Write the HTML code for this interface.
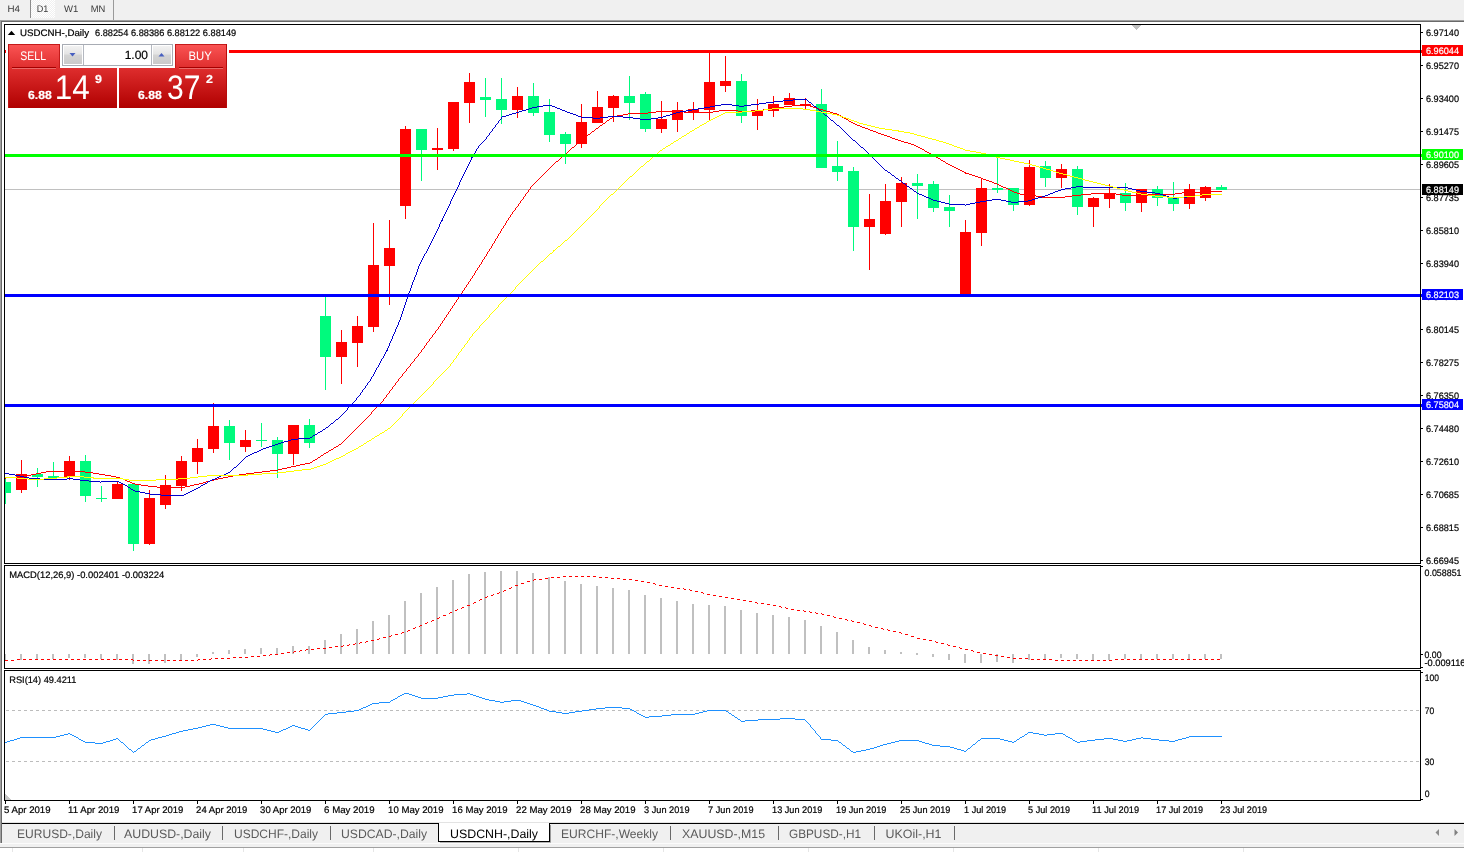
<!DOCTYPE html>
<html lang="en"><head><meta charset="utf-8"><title>USDCNH-,Daily</title>
<style>
html,body{margin:0;padding:0;background:#fff;overflow:hidden}
body{width:1464px;height:852px;font-family:"Liberation Sans",sans-serif}
svg{display:block;position:absolute;left:0;top:0}
svg text{font-family:"Liberation Sans",sans-serif;white-space:pre}
</style></head><body>
<svg width="1464" height="852" viewBox="0 0 1464 852" shape-rendering="crispEdges" text-rendering="geometricPrecision">
<rect x="0" y="0" width="1464" height="852" fill="#ffffff"/>
<rect x="0" y="0" width="1464" height="20" fill="#f0f0f0"/>
<defs><pattern id="ck" width="2" height="2" patternUnits="userSpaceOnUse"><rect width="2" height="2" fill="#f0f0f0"/><rect width="1" height="1" fill="#fff"/><rect x="1" y="1" width="1" height="1" fill="#fff"/></pattern></defs>
<rect x="31" y="0" width="24" height="18" fill="url(#ck)"/>
<rect x="30" y="0" width="1" height="18" fill="#8c8c8c"/>
<rect x="113" y="0" width="1" height="20" fill="#9a9a9a"/>
<rect x="0" y="20" width="1464" height="1" fill="#a0a0a0"/>
<rect x="1" y="21" width="1463" height="1" fill="#696969"/>
<rect x="0" y="20" width="1" height="823" fill="#a0a0a0"/>
<rect x="1" y="21" width="1" height="822" fill="#696969"/>
<text x="7.5" y="12" font-size="9.6" fill="#3a3a3a" stroke="#3a3a3a" stroke-width="0" textLength="12.5" lengthAdjust="spacingAndGlyphs">H4</text>
<text x="36.7" y="12" font-size="9.6" fill="#3a3a3a" stroke="#3a3a3a" stroke-width="0" textLength="11.6" lengthAdjust="spacingAndGlyphs">D1</text>
<text x="64" y="12" font-size="9.6" fill="#3a3a3a" stroke="#3a3a3a" stroke-width="0" textLength="14.3" lengthAdjust="spacingAndGlyphs">W1</text>
<text x="90.8" y="12" font-size="9.6" fill="#3a3a3a" stroke="#3a3a3a" stroke-width="0" textLength="14.6" lengthAdjust="spacingAndGlyphs">MN</text>
<rect x="4" y="24" width="1417" height="1" fill="#000000"/>
<rect x="4" y="563" width="1417" height="1" fill="#000000"/>
<rect x="4" y="24" width="1" height="540" fill="#000000"/>
<rect x="1420" y="24" width="1" height="540" fill="#000000"/>
<rect x="4" y="565" width="1417" height="1" fill="#000000"/>
<rect x="4" y="668" width="1417" height="1" fill="#000000"/>
<rect x="4" y="565" width="1" height="104" fill="#000000"/>
<rect x="1420" y="565" width="1" height="104" fill="#000000"/>
<rect x="4" y="670" width="1417" height="1" fill="#000000"/>
<rect x="4" y="800" width="1417" height="1" fill="#000000"/>
<rect x="4" y="670" width="1" height="131" fill="#000000"/>
<rect x="1420" y="670" width="1" height="131" fill="#000000"/>
<rect x="5" y="189" width="1415" height="1" fill="#c0c0c0"/>
<g id="candles">
<rect x="5" y="478" width="1" height="26" fill="#00fa7d"/>
<rect x="5" y="482" width="6" height="11" fill="#00fa7d"/>
<rect x="21" y="460" width="1" height="33" fill="#ff0000"/>
<rect x="16" y="474" width="11" height="16" fill="#ff0000"/>
<rect x="37" y="468" width="1" height="19" fill="#00fa7d"/>
<rect x="32" y="474" width="11" height="3" fill="#00fa7d"/>
<rect x="53" y="462" width="1" height="17" fill="#00fa7d"/>
<rect x="48" y="476" width="11" height="2" fill="#00fa7d"/>
<rect x="69" y="456" width="1" height="24" fill="#ff0000"/>
<rect x="64" y="461" width="11" height="16" fill="#ff0000"/>
<rect x="85" y="455" width="1" height="47" fill="#00fa7d"/>
<rect x="80" y="461" width="11" height="35" fill="#00fa7d"/>
<rect x="101" y="486" width="1" height="16" fill="#00fa7d"/>
<rect x="96" y="498" width="11" height="1" fill="#00fa7d"/>
<rect x="117" y="482" width="1" height="17" fill="#ff0000"/>
<rect x="112" y="484" width="11" height="15" fill="#ff0000"/>
<rect x="133" y="484" width="1" height="67" fill="#00fa7d"/>
<rect x="128" y="484" width="11" height="60" fill="#00fa7d"/>
<rect x="149" y="490" width="1" height="55" fill="#ff0000"/>
<rect x="144" y="498" width="11" height="46" fill="#ff0000"/>
<rect x="165" y="475" width="1" height="34" fill="#ff0000"/>
<rect x="160" y="485" width="11" height="20" fill="#ff0000"/>
<rect x="181" y="456" width="1" height="35" fill="#ff0000"/>
<rect x="176" y="461" width="11" height="25" fill="#ff0000"/>
<rect x="197" y="439" width="1" height="35" fill="#ff0000"/>
<rect x="192" y="448" width="11" height="14" fill="#ff0000"/>
<rect x="213" y="403" width="1" height="50" fill="#ff0000"/>
<rect x="208" y="426" width="11" height="23" fill="#ff0000"/>
<rect x="229" y="420" width="1" height="40" fill="#00fa7d"/>
<rect x="224" y="426" width="11" height="17" fill="#00fa7d"/>
<rect x="245" y="430" width="1" height="22" fill="#ff0000"/>
<rect x="240" y="440" width="11" height="7" fill="#ff0000"/>
<rect x="261" y="423" width="1" height="24" fill="#00fa7d"/>
<rect x="256" y="440" width="11" height="1" fill="#00fa7d"/>
<rect x="277" y="437" width="1" height="41" fill="#00fa7d"/>
<rect x="272" y="440" width="11" height="14" fill="#00fa7d"/>
<rect x="293" y="425" width="1" height="40" fill="#ff0000"/>
<rect x="288" y="425" width="11" height="29" fill="#ff0000"/>
<rect x="309" y="419" width="1" height="29" fill="#00fa7d"/>
<rect x="304" y="425" width="11" height="18" fill="#00fa7d"/>
<rect x="325" y="297" width="1" height="93" fill="#00fa7d"/>
<rect x="320" y="316" width="11" height="41" fill="#00fa7d"/>
<rect x="341" y="330" width="1" height="54" fill="#ff0000"/>
<rect x="336" y="342" width="11" height="15" fill="#ff0000"/>
<rect x="357" y="316" width="1" height="51" fill="#ff0000"/>
<rect x="352" y="326" width="11" height="17" fill="#ff0000"/>
<rect x="373" y="223" width="1" height="109" fill="#ff0000"/>
<rect x="368" y="265" width="11" height="62" fill="#ff0000"/>
<rect x="389" y="220" width="1" height="85" fill="#ff0000"/>
<rect x="384" y="248" width="11" height="18" fill="#ff0000"/>
<rect x="405" y="126" width="1" height="93" fill="#ff0000"/>
<rect x="400" y="129" width="11" height="77" fill="#ff0000"/>
<rect x="421" y="129" width="1" height="52" fill="#00fa7d"/>
<rect x="416" y="129" width="11" height="21" fill="#00fa7d"/>
<rect x="437" y="128" width="1" height="42" fill="#ff0000"/>
<rect x="432" y="148" width="11" height="2" fill="#ff0000"/>
<rect x="453" y="102" width="1" height="49" fill="#ff0000"/>
<rect x="448" y="102" width="11" height="47" fill="#ff0000"/>
<rect x="469" y="73" width="1" height="50" fill="#ff0000"/>
<rect x="464" y="82" width="11" height="21" fill="#ff0000"/>
<rect x="485" y="78" width="1" height="39" fill="#00fa7d"/>
<rect x="480" y="97" width="11" height="3" fill="#00fa7d"/>
<rect x="501" y="78" width="1" height="46" fill="#00fa7d"/>
<rect x="496" y="99" width="11" height="11" fill="#00fa7d"/>
<rect x="517" y="87" width="1" height="31" fill="#ff0000"/>
<rect x="512" y="96" width="11" height="14" fill="#ff0000"/>
<rect x="533" y="83" width="1" height="33" fill="#00fa7d"/>
<rect x="528" y="96" width="11" height="17" fill="#00fa7d"/>
<rect x="549" y="99" width="1" height="43" fill="#00fa7d"/>
<rect x="544" y="112" width="11" height="23" fill="#00fa7d"/>
<rect x="565" y="132" width="1" height="32" fill="#00fa7d"/>
<rect x="560" y="134" width="11" height="10" fill="#00fa7d"/>
<rect x="581" y="104" width="1" height="44" fill="#ff0000"/>
<rect x="576" y="122" width="11" height="22" fill="#ff0000"/>
<rect x="597" y="91" width="1" height="32" fill="#ff0000"/>
<rect x="592" y="107" width="11" height="16" fill="#ff0000"/>
<rect x="613" y="95" width="1" height="27" fill="#ff0000"/>
<rect x="608" y="96" width="11" height="12" fill="#ff0000"/>
<rect x="629" y="76" width="1" height="44" fill="#00fa7d"/>
<rect x="624" y="96" width="11" height="7" fill="#00fa7d"/>
<rect x="645" y="92" width="1" height="40" fill="#00fa7d"/>
<rect x="640" y="94" width="11" height="35" fill="#00fa7d"/>
<rect x="661" y="101" width="1" height="32" fill="#ff0000"/>
<rect x="656" y="119" width="11" height="10" fill="#ff0000"/>
<rect x="677" y="102" width="1" height="30" fill="#ff0000"/>
<rect x="672" y="110" width="11" height="10" fill="#ff0000"/>
<rect x="693" y="102" width="1" height="18" fill="#ff0000"/>
<rect x="688" y="109" width="11" height="3" fill="#ff0000"/>
<rect x="709" y="53" width="1" height="67" fill="#ff0000"/>
<rect x="704" y="82" width="11" height="28" fill="#ff0000"/>
<rect x="725" y="56" width="1" height="36" fill="#ff0000"/>
<rect x="720" y="81" width="11" height="5" fill="#ff0000"/>
<rect x="741" y="74" width="1" height="49" fill="#00fa7d"/>
<rect x="736" y="81" width="11" height="35" fill="#00fa7d"/>
<rect x="757" y="99" width="1" height="31" fill="#ff0000"/>
<rect x="752" y="110" width="11" height="6" fill="#ff0000"/>
<rect x="773" y="96" width="1" height="21" fill="#ff0000"/>
<rect x="768" y="104" width="11" height="7" fill="#ff0000"/>
<rect x="789" y="93" width="1" height="12" fill="#ff0000"/>
<rect x="784" y="98" width="11" height="7" fill="#ff0000"/>
<rect x="805" y="98" width="1" height="11" fill="#ff0000"/>
<rect x="800" y="104" width="11" height="2" fill="#ff0000"/>
<rect x="821" y="89" width="1" height="79" fill="#00fa7d"/>
<rect x="816" y="104" width="11" height="64" fill="#00fa7d"/>
<rect x="837" y="141" width="1" height="40" fill="#00fa7d"/>
<rect x="832" y="166" width="11" height="6" fill="#00fa7d"/>
<rect x="853" y="167" width="1" height="84" fill="#00fa7d"/>
<rect x="848" y="171" width="11" height="56" fill="#00fa7d"/>
<rect x="869" y="194" width="1" height="76" fill="#ff0000"/>
<rect x="864" y="219" width="11" height="8" fill="#ff0000"/>
<rect x="885" y="184" width="1" height="51" fill="#ff0000"/>
<rect x="880" y="201" width="11" height="33" fill="#ff0000"/>
<rect x="901" y="177" width="1" height="50" fill="#ff0000"/>
<rect x="896" y="183" width="11" height="19" fill="#ff0000"/>
<rect x="917" y="174" width="1" height="45" fill="#00fa7d"/>
<rect x="912" y="183" width="11" height="3" fill="#00fa7d"/>
<rect x="933" y="181" width="1" height="31" fill="#00fa7d"/>
<rect x="928" y="184" width="11" height="24" fill="#00fa7d"/>
<rect x="949" y="195" width="1" height="32" fill="#00fa7d"/>
<rect x="944" y="207" width="11" height="4" fill="#00fa7d"/>
<rect x="965" y="220" width="1" height="74" fill="#ff0000"/>
<rect x="960" y="232" width="11" height="62" fill="#ff0000"/>
<rect x="981" y="178" width="1" height="68" fill="#ff0000"/>
<rect x="976" y="188" width="11" height="45" fill="#ff0000"/>
<rect x="997" y="157" width="1" height="36" fill="#00fa7d"/>
<rect x="992" y="188" width="11" height="2" fill="#00fa7d"/>
<rect x="1013" y="188" width="1" height="23" fill="#00fa7d"/>
<rect x="1008" y="188" width="11" height="17" fill="#00fa7d"/>
<rect x="1029" y="160" width="1" height="46" fill="#ff0000"/>
<rect x="1024" y="167" width="11" height="38" fill="#ff0000"/>
<rect x="1045" y="161" width="1" height="26" fill="#00fa7d"/>
<rect x="1040" y="166" width="11" height="12" fill="#00fa7d"/>
<rect x="1061" y="164" width="1" height="24" fill="#ff0000"/>
<rect x="1056" y="169" width="11" height="9" fill="#ff0000"/>
<rect x="1077" y="166" width="1" height="49" fill="#00fa7d"/>
<rect x="1072" y="169" width="11" height="38" fill="#00fa7d"/>
<rect x="1093" y="197" width="1" height="30" fill="#ff0000"/>
<rect x="1088" y="198" width="11" height="9" fill="#ff0000"/>
<rect x="1109" y="184" width="1" height="24" fill="#ff0000"/>
<rect x="1104" y="193" width="11" height="6" fill="#ff0000"/>
<rect x="1125" y="183" width="1" height="28" fill="#00fa7d"/>
<rect x="1120" y="193" width="11" height="10" fill="#00fa7d"/>
<rect x="1141" y="189" width="1" height="23" fill="#ff0000"/>
<rect x="1136" y="189" width="11" height="14" fill="#ff0000"/>
<rect x="1157" y="186" width="1" height="20" fill="#00fa7d"/>
<rect x="1152" y="189" width="11" height="9" fill="#00fa7d"/>
<rect x="1173" y="182" width="1" height="29" fill="#00fa7d"/>
<rect x="1168" y="197" width="11" height="7" fill="#00fa7d"/>
<rect x="1189" y="184" width="1" height="25" fill="#ff0000"/>
<rect x="1184" y="189" width="11" height="15" fill="#ff0000"/>
<rect x="1205" y="186" width="1" height="15" fill="#ff0000"/>
<rect x="1200" y="187" width="11" height="11" fill="#ff0000"/>
<rect x="1221" y="185" width="1" height="5" fill="#00fa7d"/>
<rect x="1216" y="187" width="11" height="3" fill="#00fa7d"/>
</g>
<path d="M16.5 476v2M371.5 412v2M383.5 399v2M386.5 395v2M389.5 391v2M392.5 387v2M395.5 383v2M398.5 379v2M402.5 374v2M406.5 369v2M410.5 364v2M414.5 359v2M418.5 354v2M421.5 350v2M424.5 346v2M426.5 343v2M429.5 339v2M432.5 335v2M435.5 331v2M438.5 327v2M440.5 324v2M442.5 321v2M444.5 318v2M446.5 315v2M448.5 312v2M450.5 309v2M452.5 306v2M454.5 303v2M456.5 300v2M458.5 297v2M460.5 294v2M462.5 291v2M464.5 288v2M466.5 285v2M468.5 282v2M470.5 279v2M472.5 276v2M474.5 273v2M475.5 271v2M477.5 268v2M479.5 265v2M481.5 262v2M482.5 260v2M484.5 257v2M486.5 254v2M487.5 252v2M489.5 249v2M491.5 246v2M492.5 244v2M494.5 241v2M495.5 239v2M497.5 236v2M498.5 234v2M500.5 231v2M501.5 229v2M503.5 226v2M505.5 223v2M506.5 221v2M508.5 218v2M510.5 215v2M512.5 212v2M515.5 208v2M518.5 204v2M520.5 201v2M523.5 197v2M525.5 194v2M528.5 190v2M530.5 187v2M965.5 172v2M801 104.5h6M792 105.5h9M807 105.5h3M784 106.5h8M810 106.5h3M776 107.5h8M813 107.5h3M769 108.5h7M816 108.5h3M763 109.5h6M819 109.5h4M719 110.5h19M751 110.5h12M823 110.5h3M656 111.5h28M713 111.5h6M738 111.5h13M826 111.5h4M648 112.5h8M684 112.5h9M694 112.5h19M830 112.5h3M628 113.5h20M693 113.5h1M833 113.5h4M623 114.5h5M837 114.5h2M617 115.5h6M839 115.5h2M613 116.5h4M841 116.5h1M612 117.5h1M842 117.5h2M610 118.5h2M844 118.5h2M609 119.5h1M846 119.5h2M607 120.5h2M848 120.5h1M606 121.5h1M849 121.5h2M605 122.5h1M851 122.5h2M603 123.5h2M853 123.5h2M602 124.5h1M855 124.5h2M600 125.5h2M857 125.5h3M599 126.5h1M860 126.5h2M598 127.5h1M862 127.5h3M596 128.5h2M865 128.5h3M595 129.5h1M868 129.5h2M594 130.5h1M870 130.5h3M592 131.5h2M873 131.5h3M591 132.5h1M876 132.5h2M590 133.5h1M878 133.5h3M588 134.5h2M881 134.5h3M587 135.5h1M884 135.5h3M586 136.5h1M887 136.5h3M584 137.5h2M890 137.5h2M583 138.5h1M892 138.5h3M582 139.5h1M895 139.5h3M580 140.5h2M898 140.5h3M579 141.5h1M901 141.5h3M578 142.5h1M904 142.5h4M577 143.5h1M908 143.5h3M576 144.5h1M911 144.5h3M575 145.5h1M914 145.5h2M574 146.5h1M916 146.5h2M572 147.5h2M918 147.5h2M571 148.5h1M920 148.5h2M570 149.5h1M922 149.5h2M569 150.5h1M924 150.5h1M568 151.5h1M925 151.5h2M567 152.5h1M927 152.5h2M566 153.5h1M929 153.5h2M565 154.5h1M931 154.5h2M563 155.5h2M933 155.5h2M562 156.5h1M935 156.5h1M561 157.5h1M936 157.5h2M560 158.5h1M938 158.5h2M559 159.5h1M940 159.5h1M558 160.5h1M941 160.5h2M556 161.5h2M943 161.5h2M555 162.5h1M945 162.5h1M554 163.5h1M946 163.5h2M553 164.5h1M948 164.5h2M552 165.5h1M950 165.5h2M551 166.5h1M952 166.5h2M550 167.5h1M954 167.5h2M549 168.5h1M956 168.5h2M548 169.5h1M958 169.5h2M547 170.5h1M960 170.5h2M546 171.5h1M962 171.5h2M545 172.5h1M964 172.5h1M544 173.5h1M966 173.5h3M543 174.5h1M969 174.5h3M542 175.5h1M972 175.5h3M541 176.5h1M975 176.5h3M540 177.5h1M978 177.5h3M539 178.5h1M981 178.5h2M538 179.5h1M983 179.5h3M537 180.5h1M986 180.5h3M536 181.5h1M989 181.5h3M535 182.5h1M992 182.5h2M534 183.5h1M994 183.5h3M533 184.5h1M997 184.5h2M532 185.5h1M999 185.5h2M531 186.5h1M1001 186.5h2M1003 187.5h3M1006 188.5h2M529 189.5h1M1008 189.5h2M1010 190.5h2M1012 191.5h2M1206 191.5h16M527 192.5h1M1014 192.5h3M1182 192.5h24M526 193.5h1M1017 193.5h3M1091 193.5h25M1175 193.5h7M1020 194.5h9M1081 194.5h10M1116 194.5h6M1148 194.5h27M1029 195.5h7M1072 195.5h9M1122 195.5h26M524 196.5h1M1036 196.5h6M1065 196.5h7M1042 197.5h23M522 199.5h1M521 200.5h1M519 203.5h1M517 206.5h1M516 207.5h1M514 210.5h1M513 211.5h1M511 214.5h1M509 217.5h1M507 220.5h1M504 225.5h1M502 228.5h1M499 233.5h1M496 238.5h1M493 243.5h1M490 248.5h1M488 251.5h1M485 256.5h1M483 259.5h1M480 264.5h1M478 267.5h1M476 270.5h1M473 275.5h1M471 278.5h1M469 281.5h1M467 284.5h1M465 287.5h1M463 290.5h1M461 293.5h1M459 296.5h1M457 299.5h1M455 302.5h1M453 305.5h1M451 308.5h1M449 311.5h1M447 314.5h1M445 317.5h1M443 320.5h1M441 323.5h1M439 326.5h1M437 329.5h1M436 330.5h1M434 333.5h1M433 334.5h1M431 337.5h1M430 338.5h1M428 341.5h1M427 342.5h1M425 345.5h1M423 348.5h1M422 349.5h1M420 352.5h1M419 353.5h1M417 356.5h1M416 357.5h1M415 358.5h1M413 361.5h1M412 362.5h1M411 363.5h1M409 366.5h1M408 367.5h1M407 368.5h1M405 371.5h1M404 372.5h1M403 373.5h1M401 376.5h1M400 377.5h1M399 378.5h1M397 381.5h1M396 382.5h1M394 385.5h1M393 386.5h1M391 389.5h1M390 390.5h1M388 393.5h1M387 394.5h1M385 397.5h1M384 398.5h1M382 401.5h1M381 402.5h1M380 403.5h1M379 404.5h1M378 405.5h1M377 406.5h1M376 407.5h1M375 408.5h1M374 409.5h1M373 410.5h1M372 411.5h1M370 414.5h1M369 415.5h1M368 416.5h1M367 417.5h1M366 418.5h1M365 419.5h1M364 420.5h1M363 421.5h1M362 422.5h1M361 423.5h1M360 424.5h1M359 425.5h1M358 426.5h1M357 427.5h1M356 428.5h1M355 429.5h1M354 430.5h1M353 431.5h1M352 432.5h1M351 433.5h1M350 434.5h1M349 435.5h1M348 436.5h1M347 437.5h1M346 438.5h1M345 439.5h1M344 440.5h1M343 441.5h1M342 442.5h1M341 443.5h1M339 444.5h2M338 445.5h1M336 446.5h2M334 447.5h2M333 448.5h1M331 449.5h2M329 450.5h2M328 451.5h1M326 452.5h2M324 453.5h2M323 454.5h1M321 455.5h2M320 456.5h1M318 457.5h2M317 458.5h1M315 459.5h2M313 460.5h2M312 461.5h1M310 462.5h2M305 463.5h5M300 464.5h5M296 465.5h4M291 466.5h5M287 467.5h4M282 468.5h5M278 469.5h4M270 470.5h8M46 471.5h39M262 471.5h8M41 472.5h5M85 472.5h8M254 472.5h8M36 473.5h5M93 473.5h6M246 473.5h8M31 474.5h5M99 474.5h6M239 474.5h7M23 475.5h8M105 475.5h6M233 475.5h6M17 476.5h6M111 476.5h5M228 476.5h5M6 477.5h10M116 477.5h4M223 477.5h5M5 478.5h1M120 478.5h3M218 478.5h5M123 479.5h2M214 479.5h4M125 480.5h2M210 480.5h4M127 481.5h3M206 481.5h4M130 482.5h2M203 482.5h3M132 483.5h3M199 483.5h4M135 484.5h6M194 484.5h5M141 485.5h7M190 485.5h4M148 486.5h9M185 486.5h5M157 487.5h28" fill="none" stroke="#ff0000" stroke-width="1"/>
<path d="M347.5 408v2M356.5 398v2M360.5 393v2M362.5 390v2M365.5 386v2M367.5 383v2M370.5 379v2M371.5 377v2M373.5 374v2M374.5 372v2M375.5 370v2M376.5 368v2M378.5 365v2M379.5 363v2M380.5 361v2M381.5 359v2M383.5 356v2M384.5 354v2M385.5 352v2M386.5 350v2M387.5 348v3M388.5 346v2M389.5 343v3M390.5 341v2M391.5 339v2M392.5 336v3M393.5 334v2M394.5 332v2M395.5 329v3M396.5 327v2M397.5 325v2M398.5 322v3M399.5 320v2M400.5 317v3M401.5 314v3M402.5 311v3M403.5 308v3M404.5 305v3M405.5 302v3M406.5 299v3M407.5 296v3M408.5 293v3M409.5 291v2M410.5 288v3M411.5 285v3M412.5 282v3M413.5 280v2M414.5 277v3M415.5 275v2M416.5 272v3M417.5 269v3M418.5 266v3M419.5 264v2M420.5 262v2M421.5 260v2M422.5 258v2M423.5 256v2M424.5 254v2M426.5 251v2M427.5 249v2M428.5 247v2M429.5 245v2M430.5 243v2M431.5 241v2M432.5 239v2M433.5 237v2M434.5 235v2M435.5 233v2M436.5 231v2M437.5 229v2M438.5 227v2M439.5 224v3M440.5 222v2M441.5 220v2M442.5 218v3M443.5 216v2M444.5 214v2M445.5 212v2M446.5 210v2M447.5 208v2M448.5 206v2M449.5 204v2M450.5 201v3M451.5 199v2M452.5 197v2M453.5 195v2M454.5 193v2M455.5 191v2M456.5 189v2M457.5 187v2M458.5 185v2M459.5 182v3M460.5 180v2M461.5 178v2M462.5 176v2M463.5 174v2M464.5 172v2M465.5 170v2M466.5 168v2M467.5 166v2M468.5 164v2M469.5 162v2M470.5 160v2M471.5 157v3M472.5 156v2M473.5 154v2M475.5 151v2M476.5 149v2M478.5 146v2M486.5 137v2M489.5 133v2M492.5 129v2M495.5 125v2M498.5 121v2M501.5 117v2M793 99.5h14M783 100.5h10M807 100.5h1M774 101.5h9M808 101.5h1M766 102.5h8M809 102.5h2M759 103.5h7M811 103.5h1M721 104.5h11M751 104.5h8M812 104.5h1M543 105.5h9M715 105.5h6M732 105.5h7M744 105.5h7M813 105.5h1M537 106.5h6M552 106.5h3M710 106.5h5M739 106.5h5M814 106.5h2M532 107.5h5M555 107.5h2M704 107.5h6M816 107.5h1M529 108.5h3M557 108.5h3M698 108.5h6M817 108.5h1M526 109.5h3M560 109.5h2M692 109.5h6M818 109.5h1M522 110.5h4M562 110.5h3M686 110.5h6M819 110.5h2M519 111.5h3M565 111.5h2M680 111.5h6M821 111.5h1M516 112.5h3M567 112.5h3M676 112.5h4M822 112.5h1M512 113.5h4M570 113.5h3M673 113.5h3M823 113.5h1M509 114.5h3M573 114.5h3M670 114.5h3M824 114.5h1M506 115.5h3M576 115.5h2M666 115.5h4M825 115.5h2M502 116.5h4M578 116.5h3M608 116.5h15M663 116.5h3M827 116.5h1M581 117.5h12M600 117.5h8M623 117.5h10M658 117.5h5M828 117.5h1M593 118.5h7M633 118.5h7M651 118.5h7M829 118.5h1M500 119.5h1M640 119.5h11M830 119.5h1M499 120.5h1M831 120.5h2M833 121.5h1M834 122.5h1M497 123.5h1M835 123.5h1M496 124.5h1M836 124.5h1M837 125.5h2M839 126.5h1M494 127.5h1M840 127.5h1M493 128.5h1M841 128.5h1M842 129.5h1M843 130.5h1M491 131.5h1M844 131.5h1M490 132.5h1M845 132.5h1M846 133.5h1M847 134.5h1M488 135.5h1M848 135.5h1M487 136.5h1M849 136.5h1M850 137.5h1M851 138.5h1M485 139.5h1M852 139.5h1M484 140.5h1M853 140.5h2M483 141.5h1M855 141.5h1M482 142.5h1M856 142.5h1M481 143.5h1M857 143.5h1M480 144.5h1M858 144.5h1M479 145.5h1M859 145.5h1M860 146.5h1M861 147.5h2M477 148.5h1M863 148.5h1M864 149.5h1M865 150.5h1M866 151.5h1M867 152.5h1M474 153.5h1M868 153.5h1M869 154.5h1M870 155.5h1M871 156.5h1M872 157.5h1M873 158.5h1M874 159.5h1M875 160.5h1M876 161.5h1M877 162.5h1M878 163.5h1M879 164.5h1M880 165.5h1M881 166.5h1M882 167.5h1M883 168.5h1M884 169.5h1M885 170.5h2M887 171.5h1M888 172.5h2M890 173.5h1M891 174.5h1M892 175.5h2M894 176.5h1M895 177.5h1M896 178.5h2M898 179.5h1M899 180.5h2M901 181.5h1M902 182.5h1M903 183.5h2M905 184.5h1M906 185.5h1M907 186.5h2M1076 186.5h7M909 187.5h1M1071 187.5h5M1083 187.5h45M910 188.5h2M1065 188.5h6M1128 188.5h4M912 189.5h1M1061 189.5h4M1132 189.5h4M913 190.5h1M1058 190.5h3M1136 190.5h4M914 191.5h2M1055 191.5h3M1140 191.5h7M916 192.5h1M1053 192.5h2M1147 192.5h8M917 193.5h2M1050 193.5h3M1155 193.5h5M919 194.5h3M1048 194.5h2M1160 194.5h3M1202 194.5h20M922 195.5h2M1045 195.5h3M1163 195.5h3M1195 195.5h7M924 196.5h2M1042 196.5h3M1166 196.5h3M1187 196.5h8M926 197.5h3M1038 197.5h4M1169 197.5h4M1177 197.5h10M929 198.5h2M1035 198.5h3M1173 198.5h4M931 199.5h2M992 199.5h9M1032 199.5h3M933 200.5h4M986 200.5h6M1001 200.5h5M1028 200.5h4M937 201.5h4M980 201.5h6M1006 201.5h5M1018 201.5h10M941 202.5h4M975 202.5h5M1011 202.5h7M945 203.5h4M970 203.5h5M949 204.5h16M966 204.5h4M965 205.5h1M425 253.5h1M382 358.5h1M377 367.5h1M372 376.5h1M369 381.5h1M368 382.5h1M366 385.5h1M364 388.5h1M363 389.5h1M361 392.5h1M359 395.5h1M358 396.5h1M357 397.5h1M355 400.5h1M354 401.5h1M353 402.5h1M352 403.5h1M351 404.5h1M350 405.5h1M349 406.5h1M348 407.5h1M346 410.5h1M345 411.5h1M344 412.5h1M343 413.5h1M342 414.5h1M341 415.5h1M340 416.5h1M339 417.5h1M338 418.5h1M336 419.5h2M335 420.5h1M334 421.5h1M333 422.5h1M331 423.5h2M330 424.5h1M329 425.5h1M328 426.5h1M326 427.5h2M325 428.5h1M323 429.5h2M322 430.5h1M320 431.5h2M318 432.5h2M317 433.5h1M315 434.5h2M313 435.5h2M312 436.5h1M310 437.5h2M298 438.5h12M291 439.5h7M288 440.5h3M284 441.5h4M281 442.5h3M278 443.5h3M275 444.5h3M272 445.5h3M269 446.5h3M266 447.5h3M263 448.5h3M261 449.5h2M259 450.5h2M257 451.5h2M254 452.5h3M252 453.5h2M250 454.5h2M248 455.5h2M246 456.5h2M245 457.5h1M244 458.5h1M243 459.5h1M242 460.5h1M241 461.5h1M240 462.5h1M239 463.5h1M238 464.5h1M237 465.5h1M236 466.5h1M234 467.5h2M233 468.5h1M232 469.5h1M231 470.5h1M230 471.5h1M228 472.5h2M5 473.5h4M226 473.5h2M9 474.5h6M224 474.5h2M15 475.5h5M221 475.5h3M20 476.5h4M219 476.5h2M24 477.5h5M217 477.5h2M29 478.5h11M67 478.5h6M215 478.5h2M40 479.5h27M73 479.5h7M212 479.5h3M80 480.5h9M210 480.5h2M89 481.5h11M101 481.5h18M208 481.5h2M100 482.5h1M119 482.5h2M207 482.5h1M121 483.5h2M205 483.5h2M123 484.5h2M203 484.5h2M125 485.5h2M201 485.5h2M127 486.5h1M200 486.5h1M128 487.5h2M198 487.5h2M130 488.5h1M196 488.5h2M131 489.5h2M194 489.5h2M133 490.5h2M192 490.5h2M135 491.5h5M190 491.5h2M140 492.5h5M188 492.5h2M145 493.5h5M186 493.5h2M150 494.5h11M184 494.5h2M161 495.5h23" fill="none" stroke="#0000cd" stroke-width="1"/>
<path d="M67.5 476v2M93.5 477v2M247.5 474v2M402.5 414v2M433.5 382v2M450.5 364v2M453.5 360v2M456.5 356v2M458.5 353v2M461.5 349v2M464.5 345v2M467.5 341v2M469.5 338v2M472.5 334v2M479.5 326v2M489.5 315v2M498.5 305v2M515.5 287v2M553.5 250v2M599.5 206v2M898.5 130v2M772 108.5h31M764 109.5h8M803 109.5h7M755 110.5h9M810 110.5h6M742 111.5h13M816 111.5h5M725 112.5h17M821 112.5h6M723 113.5h2M827 113.5h5M721 114.5h2M832 114.5h5M719 115.5h2M837 115.5h3M717 116.5h2M840 116.5h3M715 117.5h2M843 117.5h3M713 118.5h2M846 118.5h3M711 119.5h2M849 119.5h2M709 120.5h2M851 120.5h3M707 121.5h2M854 121.5h3M706 122.5h1M857 122.5h2M704 123.5h2M859 123.5h4M702 124.5h2M863 124.5h4M700 125.5h2M867 125.5h4M699 126.5h1M871 126.5h4M697 127.5h2M875 127.5h4M695 128.5h2M879 128.5h6M694 129.5h1M885 129.5h7M692 130.5h2M892 130.5h6M690 131.5h2M899 131.5h5M689 132.5h1M904 132.5h6M687 133.5h2M910 133.5h4M686 134.5h1M914 134.5h3M684 135.5h2M917 135.5h4M682 136.5h2M921 136.5h4M681 137.5h1M925 137.5h3M679 138.5h2M928 138.5h4M678 139.5h1M932 139.5h4M676 140.5h2M936 140.5h3M674 141.5h2M939 141.5h4M673 142.5h1M943 142.5h3M671 143.5h2M946 143.5h3M670 144.5h1M949 144.5h3M668 145.5h2M952 145.5h2M666 146.5h2M954 146.5h3M665 147.5h1M957 147.5h3M663 148.5h2M960 148.5h3M662 149.5h1M963 149.5h2M660 150.5h2M965 150.5h5M659 151.5h1M970 151.5h6M658 152.5h1M976 152.5h5M657 153.5h1M981 153.5h5M656 154.5h1M986 154.5h3M655 155.5h1M989 155.5h3M653 156.5h2M992 156.5h4M652 157.5h1M996 157.5h4M651 158.5h1M1000 158.5h5M650 159.5h1M1005 159.5h5M649 160.5h1M1010 160.5h4M647 161.5h2M1014 161.5h5M646 162.5h1M1019 162.5h5M645 163.5h1M1024 163.5h5M644 164.5h1M1029 164.5h3M643 165.5h1M1032 165.5h4M641 166.5h2M1036 166.5h3M640 167.5h1M1039 167.5h4M639 168.5h1M1043 168.5h3M638 169.5h1M1046 169.5h4M637 170.5h1M1050 170.5h3M636 171.5h1M1053 171.5h3M635 172.5h1M1056 172.5h3M634 173.5h1M1059 173.5h4M633 174.5h1M1063 174.5h4M632 175.5h1M1067 175.5h3M630 176.5h2M1070 176.5h4M629 177.5h1M1074 177.5h4M628 178.5h1M1078 178.5h4M627 179.5h1M1082 179.5h3M626 180.5h1M1085 180.5h4M625 181.5h1M1089 181.5h4M624 182.5h1M1093 182.5h4M623 183.5h1M1097 183.5h4M622 184.5h1M1101 184.5h4M621 185.5h1M1105 185.5h4M620 186.5h1M1109 186.5h4M619 187.5h1M1113 187.5h4M618 188.5h1M1117 188.5h3M617 189.5h1M1120 189.5h4M616 190.5h1M1124 190.5h4M615 191.5h1M1128 191.5h4M614 192.5h1M1132 192.5h5M613 193.5h1M1137 193.5h4M611 194.5h2M1141 194.5h7M1202 194.5h20M610 195.5h1M1148 195.5h7M1195 195.5h7M609 196.5h1M1155 196.5h12M1184 196.5h11M608 197.5h1M1167 197.5h17M607 198.5h1M606 199.5h1M605 200.5h1M604 201.5h1M603 202.5h1M602 203.5h1M601 204.5h1M600 205.5h1M598 208.5h1M597 209.5h1M596 210.5h1M595 211.5h1M594 212.5h1M593 213.5h1M592 214.5h1M591 215.5h1M590 216.5h1M589 217.5h1M588 218.5h1M587 219.5h1M586 220.5h1M585 221.5h1M584 222.5h1M583 223.5h1M582 224.5h1M581 225.5h1M580 226.5h1M579 227.5h1M578 228.5h1M577 229.5h1M576 230.5h1M575 231.5h1M574 232.5h1M573 233.5h1M572 234.5h1M571 235.5h1M570 236.5h1M569 237.5h1M568 238.5h1M567 239.5h1M565 240.5h2M564 241.5h1M563 242.5h1M562 243.5h1M561 244.5h1M560 245.5h1M558 246.5h2M557 247.5h1M556 248.5h1M555 249.5h1M554 250.5h1M552 252.5h1M550 253.5h2M549 254.5h1M548 255.5h1M547 256.5h1M546 257.5h1M545 258.5h1M544 259.5h1M543 260.5h1M541 261.5h2M540 262.5h1M539 263.5h1M538 264.5h1M537 265.5h1M536 266.5h1M535 267.5h1M534 268.5h1M533 269.5h1M532 270.5h1M531 271.5h1M530 272.5h1M529 273.5h1M528 274.5h1M527 275.5h1M526 276.5h1M525 277.5h1M524 278.5h1M523 279.5h1M522 280.5h1M521 281.5h1M520 282.5h1M519 283.5h1M518 284.5h1M517 285.5h1M516 286.5h1M514 289.5h1M513 290.5h1M512 291.5h1M511 292.5h1M510 293.5h1M509 294.5h1M508 295.5h1M507 296.5h1M506 297.5h1M505 298.5h1M504 299.5h1M503 300.5h1M502 301.5h1M501 302.5h1M500 303.5h1M499 304.5h1M497 307.5h1M496 308.5h1M495 309.5h1M494 310.5h1M493 311.5h1M492 312.5h1M491 313.5h1M490 314.5h1M488 317.5h1M487 318.5h1M486 319.5h1M485 320.5h1M484 321.5h1M483 322.5h1M482 323.5h1M481 324.5h1M480 325.5h1M478 328.5h1M477 329.5h1M476 330.5h1M475 331.5h1M474 332.5h1M473 333.5h1M471 336.5h1M470 337.5h1M468 340.5h1M466 343.5h1M465 344.5h1M463 347.5h1M462 348.5h1M460 351.5h1M459 352.5h1M457 355.5h1M455 358.5h1M454 359.5h1M452 362.5h1M451 363.5h1M449 366.5h1M448 367.5h1M447 368.5h1M446 369.5h1M445 370.5h1M444 371.5h1M443 372.5h1M442 373.5h1M441 374.5h1M440 375.5h1M439 376.5h1M438 377.5h1M437 378.5h1M436 379.5h1M435 380.5h1M434 381.5h1M432 384.5h1M431 385.5h1M430 386.5h1M429 387.5h1M428 388.5h1M427 389.5h1M426 390.5h1M425 391.5h1M424 392.5h1M423 393.5h1M422 394.5h1M421 395.5h1M420 396.5h1M419 397.5h1M418 398.5h1M417 399.5h1M416 400.5h1M415 401.5h1M414 402.5h1M413 403.5h1M412 404.5h1M411 405.5h1M410 406.5h1M409 407.5h1M408 408.5h1M407 409.5h1M406 410.5h1M405 411.5h1M404 412.5h1M403 413.5h1M401 416.5h1M400 417.5h1M399 418.5h1M398 419.5h1M397 420.5h1M396 421.5h1M395 422.5h1M394 423.5h1M393 424.5h1M392 425.5h1M391 426.5h1M390 427.5h1M388 428.5h2M387 429.5h1M385 430.5h2M384 431.5h1M382 432.5h2M380 433.5h2M379 434.5h1M377 435.5h2M375 436.5h2M374 437.5h1M372 438.5h2M371 439.5h1M369 440.5h2M367 441.5h2M366 442.5h1M364 443.5h2M363 444.5h1M361 445.5h2M359 446.5h2M358 447.5h1M356 448.5h2M354 449.5h2M352 450.5h2M350 451.5h2M348 452.5h2M346 453.5h2M345 454.5h1M343 455.5h2M341 456.5h2M339 457.5h2M336 458.5h3M334 459.5h2M332 460.5h2M330 461.5h2M328 462.5h2M326 463.5h2M323 464.5h3M320 465.5h3M317 466.5h3M314 467.5h3M311 468.5h3M302 469.5h9M294 470.5h8M286 471.5h8M278 472.5h8M262 473.5h16M248 474.5h14M207 475.5h40M68 476.5h16M198 476.5h9M5 477.5h12M57 477.5h10M84 477.5h9M190 477.5h8M17 478.5h11M44 478.5h13M94 478.5h29M178 478.5h12M28 479.5h16M123 479.5h6M156 479.5h22M129 480.5h27" fill="none" stroke="#ffff00" stroke-width="1"/>
<rect x="5" y="50" width="1415" height="3" fill="#ff0000"/>
<rect x="5" y="154" width="1415" height="3" fill="#00ff00"/>
<rect x="5" y="294" width="1415" height="3" fill="#0000ff"/>
<rect x="5" y="404" width="1415" height="3" fill="#0000ff"/>
<polygon points="1131,25 1141,25 1136,30" fill="#c0c0c0"/>
<polygon points="5,794 11,800 5,800" fill="#c8c8c8"/>
<rect x="1421" y="32" width="2" height="1" fill="#000000"/>
<text x="1426" y="36" font-size="9.4" fill="#000" stroke="#000" stroke-width="0.2" textLength="33" lengthAdjust="spacingAndGlyphs">6.97140</text>
<rect x="1421" y="65" width="2" height="1" fill="#000000"/>
<text x="1426" y="69" font-size="9.4" fill="#000" stroke="#000" stroke-width="0.2" textLength="33" lengthAdjust="spacingAndGlyphs">6.95270</text>
<rect x="1421" y="98" width="2" height="1" fill="#000000"/>
<text x="1426" y="102" font-size="9.4" fill="#000" stroke="#000" stroke-width="0.2" textLength="33" lengthAdjust="spacingAndGlyphs">6.93400</text>
<rect x="1421" y="131" width="2" height="1" fill="#000000"/>
<text x="1426" y="135" font-size="9.4" fill="#000" stroke="#000" stroke-width="0.2" textLength="33" lengthAdjust="spacingAndGlyphs">6.91475</text>
<rect x="1421" y="164" width="2" height="1" fill="#000000"/>
<text x="1426" y="168" font-size="9.4" fill="#000" stroke="#000" stroke-width="0.2" textLength="33" lengthAdjust="spacingAndGlyphs">6.89605</text>
<rect x="1421" y="197" width="2" height="1" fill="#000000"/>
<text x="1426" y="201" font-size="9.4" fill="#000" stroke="#000" stroke-width="0.2" textLength="33" lengthAdjust="spacingAndGlyphs">6.87735</text>
<rect x="1421" y="230" width="2" height="1" fill="#000000"/>
<text x="1426" y="234" font-size="9.4" fill="#000" stroke="#000" stroke-width="0.2" textLength="33" lengthAdjust="spacingAndGlyphs">6.85810</text>
<rect x="1421" y="263" width="2" height="1" fill="#000000"/>
<text x="1426" y="267" font-size="9.4" fill="#000" stroke="#000" stroke-width="0.2" textLength="33" lengthAdjust="spacingAndGlyphs">6.83940</text>
<rect x="1421" y="296" width="2" height="1" fill="#000000"/>
<text x="1426" y="300" font-size="9.4" fill="#000" stroke="#000" stroke-width="0.2" textLength="33" lengthAdjust="spacingAndGlyphs">6.82070</text>
<rect x="1421" y="329" width="2" height="1" fill="#000000"/>
<text x="1426" y="333" font-size="9.4" fill="#000" stroke="#000" stroke-width="0.2" textLength="33" lengthAdjust="spacingAndGlyphs">6.80145</text>
<rect x="1421" y="362" width="2" height="1" fill="#000000"/>
<text x="1426" y="366" font-size="9.4" fill="#000" stroke="#000" stroke-width="0.2" textLength="33" lengthAdjust="spacingAndGlyphs">6.78275</text>
<rect x="1421" y="395" width="2" height="1" fill="#000000"/>
<text x="1426" y="399" font-size="9.4" fill="#000" stroke="#000" stroke-width="0.2" textLength="33" lengthAdjust="spacingAndGlyphs">6.76350</text>
<rect x="1421" y="428" width="2" height="1" fill="#000000"/>
<text x="1426" y="432" font-size="9.4" fill="#000" stroke="#000" stroke-width="0.2" textLength="33" lengthAdjust="spacingAndGlyphs">6.74480</text>
<rect x="1421" y="461" width="2" height="1" fill="#000000"/>
<text x="1426" y="465" font-size="9.4" fill="#000" stroke="#000" stroke-width="0.2" textLength="33" lengthAdjust="spacingAndGlyphs">6.72610</text>
<rect x="1421" y="494" width="2" height="1" fill="#000000"/>
<text x="1426" y="498" font-size="9.4" fill="#000" stroke="#000" stroke-width="0.2" textLength="33" lengthAdjust="spacingAndGlyphs">6.70685</text>
<rect x="1421" y="527" width="2" height="1" fill="#000000"/>
<text x="1426" y="531" font-size="9.4" fill="#000" stroke="#000" stroke-width="0.2" textLength="33" lengthAdjust="spacingAndGlyphs">6.68815</text>
<rect x="1421" y="560" width="2" height="1" fill="#000000"/>
<text x="1426" y="564" font-size="9.4" fill="#000" stroke="#000" stroke-width="0.2" textLength="33" lengthAdjust="spacingAndGlyphs">6.66945</text>
<rect x="1421" y="50" width="1" height="3" fill="#ff0000"/>
<rect x="1422" y="45" width="41" height="11" fill="#ff0000"/>
<text x="1426" y="54" font-size="9.4" fill="#fff" stroke="#fff" stroke-width="0.2" textLength="33" lengthAdjust="spacingAndGlyphs">6.96044</text>
<rect x="1421" y="154" width="1" height="3" fill="#00ff00"/>
<rect x="1422" y="149" width="41" height="11" fill="#00ff00"/>
<text x="1426" y="158" font-size="9.4" fill="#fff" stroke="#fff" stroke-width="0.2" textLength="33" lengthAdjust="spacingAndGlyphs">6.90100</text>
<rect x="1422" y="184" width="41" height="11" fill="#000"/>
<text x="1426" y="193" font-size="9.4" fill="#fff" stroke="#fff" stroke-width="0.2" textLength="33" lengthAdjust="spacingAndGlyphs">6.88149</text>
<rect x="1421" y="294" width="1" height="3" fill="#0000ff"/>
<rect x="1422" y="289" width="41" height="11" fill="#0000ff"/>
<text x="1426" y="298" font-size="9.4" fill="#fff" stroke="#fff" stroke-width="0.2" textLength="33" lengthAdjust="spacingAndGlyphs">6.82103</text>
<rect x="1421" y="404" width="1" height="3" fill="#0000ff"/>
<rect x="1422" y="399" width="41" height="11" fill="#0000ff"/>
<text x="1426" y="408" font-size="9.4" fill="#fff" stroke="#fff" stroke-width="0.2" textLength="33" lengthAdjust="spacingAndGlyphs">6.75804</text>
<rect x="5" y="654" width="1" height="6" fill="#c0c0c0"/>
<rect x="20" y="654" width="2" height="6" fill="#c0c0c0"/>
<rect x="36" y="654" width="2" height="5" fill="#c0c0c0"/>
<rect x="52" y="654" width="2" height="5" fill="#c0c0c0"/>
<rect x="68" y="654" width="2" height="4" fill="#c0c0c0"/>
<rect x="84" y="654" width="2" height="4" fill="#c0c0c0"/>
<rect x="100" y="654" width="2" height="5" fill="#c0c0c0"/>
<rect x="116" y="654" width="2" height="6" fill="#c0c0c0"/>
<rect x="132" y="654" width="2" height="10" fill="#c0c0c0"/>
<rect x="148" y="654" width="2" height="10" fill="#c0c0c0"/>
<rect x="164" y="654" width="2" height="9" fill="#c0c0c0"/>
<rect x="180" y="654" width="2" height="6" fill="#c0c0c0"/>
<rect x="196" y="654" width="2" height="3" fill="#c0c0c0"/>
<rect x="212" y="652" width="2" height="2" fill="#c0c0c0"/>
<rect x="228" y="650" width="2" height="4" fill="#c0c0c0"/>
<rect x="244" y="649" width="2" height="5" fill="#c0c0c0"/>
<rect x="260" y="648" width="2" height="6" fill="#c0c0c0"/>
<rect x="276" y="648" width="2" height="6" fill="#c0c0c0"/>
<rect x="292" y="646" width="2" height="8" fill="#c0c0c0"/>
<rect x="308" y="646" width="2" height="8" fill="#c0c0c0"/>
<rect x="324" y="640" width="2" height="14" fill="#c0c0c0"/>
<rect x="340" y="634" width="2" height="20" fill="#c0c0c0"/>
<rect x="356" y="629" width="2" height="25" fill="#c0c0c0"/>
<rect x="372" y="621" width="2" height="33" fill="#c0c0c0"/>
<rect x="388" y="615" width="2" height="39" fill="#c0c0c0"/>
<rect x="404" y="601" width="2" height="53" fill="#c0c0c0"/>
<rect x="420" y="593" width="2" height="61" fill="#c0c0c0"/>
<rect x="436" y="587" width="2" height="67" fill="#c0c0c0"/>
<rect x="452" y="580" width="2" height="74" fill="#c0c0c0"/>
<rect x="468" y="574" width="2" height="80" fill="#c0c0c0"/>
<rect x="484" y="572" width="2" height="82" fill="#c0c0c0"/>
<rect x="500" y="571" width="2" height="83" fill="#c0c0c0"/>
<rect x="516" y="571" width="2" height="83" fill="#c0c0c0"/>
<rect x="532" y="573" width="2" height="81" fill="#c0c0c0"/>
<rect x="548" y="577" width="2" height="77" fill="#c0c0c0"/>
<rect x="564" y="581" width="2" height="73" fill="#c0c0c0"/>
<rect x="580" y="584" width="2" height="70" fill="#c0c0c0"/>
<rect x="596" y="586" width="2" height="68" fill="#c0c0c0"/>
<rect x="612" y="588" width="2" height="66" fill="#c0c0c0"/>
<rect x="628" y="590" width="2" height="64" fill="#c0c0c0"/>
<rect x="644" y="595" width="2" height="59" fill="#c0c0c0"/>
<rect x="660" y="598" width="2" height="56" fill="#c0c0c0"/>
<rect x="676" y="601" width="2" height="53" fill="#c0c0c0"/>
<rect x="692" y="604" width="2" height="50" fill="#c0c0c0"/>
<rect x="708" y="605" width="2" height="49" fill="#c0c0c0"/>
<rect x="724" y="606" width="2" height="48" fill="#c0c0c0"/>
<rect x="740" y="610" width="2" height="44" fill="#c0c0c0"/>
<rect x="756" y="613" width="2" height="41" fill="#c0c0c0"/>
<rect x="772" y="615" width="2" height="39" fill="#c0c0c0"/>
<rect x="788" y="617" width="2" height="37" fill="#c0c0c0"/>
<rect x="804" y="620" width="2" height="34" fill="#c0c0c0"/>
<rect x="820" y="626" width="2" height="28" fill="#c0c0c0"/>
<rect x="836" y="632" width="2" height="22" fill="#c0c0c0"/>
<rect x="852" y="640" width="2" height="14" fill="#c0c0c0"/>
<rect x="868" y="647" width="2" height="7" fill="#c0c0c0"/>
<rect x="884" y="650" width="2" height="4" fill="#c0c0c0"/>
<rect x="900" y="652" width="2" height="2" fill="#c0c0c0"/>
<rect x="916" y="653" width="2" height="2" fill="#c0c0c0"/>
<rect x="932" y="654" width="2" height="3" fill="#c0c0c0"/>
<rect x="948" y="654" width="2" height="6" fill="#c0c0c0"/>
<rect x="964" y="654" width="2" height="9" fill="#c0c0c0"/>
<rect x="980" y="654" width="2" height="9" fill="#c0c0c0"/>
<rect x="996" y="654" width="2" height="8" fill="#c0c0c0"/>
<rect x="1012" y="654" width="2" height="9" fill="#c0c0c0"/>
<rect x="1028" y="654" width="2" height="6" fill="#c0c0c0"/>
<rect x="1044" y="654" width="2" height="5" fill="#c0c0c0"/>
<rect x="1060" y="654" width="2" height="4" fill="#c0c0c0"/>
<rect x="1076" y="654" width="2" height="5" fill="#c0c0c0"/>
<rect x="1092" y="654" width="2" height="6" fill="#c0c0c0"/>
<rect x="1108" y="654" width="2" height="6" fill="#c0c0c0"/>
<rect x="1124" y="654" width="2" height="5" fill="#c0c0c0"/>
<rect x="1140" y="654" width="2" height="5" fill="#c0c0c0"/>
<rect x="1156" y="654" width="2" height="5" fill="#c0c0c0"/>
<rect x="1172" y="654" width="2" height="5" fill="#c0c0c0"/>
<rect x="1188" y="654" width="2" height="5" fill="#c0c0c0"/>
<rect x="1204" y="654" width="2" height="5" fill="#c0c0c0"/>
<rect x="1220" y="654" width="2" height="5" fill="#c0c0c0"/>
<path d="M563 576.5h3M569 576.5h3M575 576.5h3M581 576.5h3M587 576.5h3M593 576.5h3M551 577.5h3M557 577.5h3M599 577.5h3M605 577.5h3M545 578.5h3M611 578.5h3M617 578.5h3M534 579.5h2M539 579.5h3M623 579.5h3M629 579.5h3M533 580.5h1M635 580.5h3M527 581.5h3M641 581.5h3M647 582.5h3M521 583.5h3M653 583.5h2M655 584.5h1M515 585.5h3M659 585.5h3M665 586.5h3M511 587.5h1M671 587.5h3M509 588.5h2M677 588.5h3M683 588.5h1M684 589.5h2M689 589.5h1M504 590.5h2M690 590.5h2M503 591.5h1M695 591.5h3M499 592.5h1M701 592.5h2M497 593.5h2M703 593.5h1M493 594.5h1M707 594.5h3M491 595.5h2M713 595.5h3M487 596.5h1M719 596.5h3M485 597.5h2M725 597.5h3M731 598.5h3M480 599.5h2M737 599.5h3M479 600.5h1M743 600.5h3M749 601.5h3M474 602.5h2M755 602.5h2M473 603.5h1M757 603.5h1M761 603.5h3M767 604.5h3M467 605.5h3M773 605.5h3M779 606.5h2M462 607.5h2M781 607.5h1M785 607.5h1M461 608.5h1M786 608.5h2M457 609.5h1M791 609.5h3M455 610.5h2M797 610.5h3M803 610.5h1M804 611.5h2M809 611.5h1M450 612.5h2M810 612.5h2M815 612.5h1M449 613.5h1M816 613.5h2M821 613.5h1M822 614.5h2M443 615.5h3M827 615.5h3M833 616.5h1M439 617.5h1M834 617.5h2M437 618.5h2M839 618.5h3M845 619.5h2M432 620.5h2M847 620.5h1M851 620.5h1M431 621.5h1M852 621.5h2M427 622.5h1M857 622.5h3M425 623.5h2M863 623.5h1M864 624.5h2M420 625.5h2M869 625.5h2M419 626.5h1M871 626.5h1M415 627.5h1M875 627.5h3M413 628.5h2M881 628.5h2M883 629.5h1M887 629.5h1M408 630.5h2M888 630.5h2M407 631.5h1M893 631.5h3M402 632.5h2M899 632.5h2M401 633.5h1M901 633.5h1M395 634.5h3M905 634.5h3M391 635.5h1M389 636.5h2M911 636.5h3M383 637.5h3M379 638.5h1M917 638.5h3M377 639.5h2M923 639.5h3M371 640.5h3M929 640.5h3M366 641.5h2M935 641.5h1M360 642.5h2M365 642.5h1M936 642.5h2M355 643.5h1M359 643.5h1M941 643.5h3M349 644.5h1M353 644.5h2M947 644.5h1M343 645.5h1M347 645.5h2M948 645.5h2M335 646.5h3M341 646.5h2M953 646.5h3M329 647.5h3M959 647.5h1M317 648.5h3M323 648.5h3M960 648.5h2M306 649.5h2M311 649.5h3M965 649.5h3M300 650.5h2M305 650.5h1M971 650.5h2M294 651.5h2M299 651.5h1M973 651.5h1M287 652.5h3M293 652.5h1M977 652.5h3M281 653.5h3M983 653.5h3M270 654.5h2M275 654.5h3M989 654.5h3M263 655.5h3M269 655.5h1M995 655.5h3M251 656.5h3M257 656.5h3M1001 656.5h3M233 657.5h3M239 657.5h3M245 657.5h3M1007 657.5h3M211 658.5h1M215 658.5h3M221 658.5h3M227 658.5h3M1013 658.5h3M1019 658.5h3M1025 658.5h3M17 659.5h3M23 659.5h3M29 659.5h3M35 659.5h3M41 659.5h3M47 659.5h3M53 659.5h3M59 659.5h3M65 659.5h3M71 659.5h3M77 659.5h3M83 659.5h3M89 659.5h3M95 659.5h3M101 659.5h3M107 659.5h3M113 659.5h3M119 659.5h3M125 659.5h3M131 659.5h2M198 659.5h2M203 659.5h3M209 659.5h2M1031 659.5h3M1037 659.5h3M1043 659.5h3M1049 659.5h3M1115 659.5h3M1121 659.5h3M1127 659.5h3M1133 659.5h3M1139 659.5h3M1145 659.5h3M1151 659.5h3M1157 659.5h3M1163 659.5h3M1169 659.5h3M1175 659.5h3M1181 659.5h3M1187 659.5h3M1193 659.5h3M1199 659.5h3M1205 659.5h3M1211 659.5h3M1217 659.5h3M5 660.5h3M11 660.5h3M133 660.5h1M137 660.5h3M143 660.5h3M149 660.5h3M155 660.5h3M161 660.5h3M167 660.5h3M173 660.5h3M179 660.5h3M185 660.5h3M191 660.5h3M197 660.5h1M1055 660.5h3M1061 660.5h3M1067 660.5h3M1073 660.5h3M1079 660.5h3M1085 660.5h3M1091 660.5h3M1097 660.5h3M1103 660.5h3M1109 660.5h3" fill="none" stroke="#ff0000" stroke-width="1"/>
<text x="9.2" y="577.6" font-size="9.4" fill="#000" stroke="#000" stroke-width="0.2" textLength="155" lengthAdjust="spacingAndGlyphs">MACD(12,26,9) -0.002401 -0.003224</text>
<rect x="1421" y="566" width="2" height="1" fill="#000000"/>
<rect x="1421" y="654" width="2" height="1" fill="#000000"/>
<rect x="1421" y="667" width="2" height="1" fill="#000000"/>
<text x="1424.5" y="576" font-size="9.4" fill="#000" stroke="#000" stroke-width="0.2" textLength="37" lengthAdjust="spacingAndGlyphs">0.058851</text>
<text x="1424.5" y="658" font-size="9.4" fill="#000" stroke="#000" stroke-width="0.2" textLength="17" lengthAdjust="spacingAndGlyphs">0.00</text>
<text x="1424.5" y="665.5" font-size="9.4" fill="#000" stroke="#000" stroke-width="0.2" textLength="41" lengthAdjust="spacingAndGlyphs">-0.009116</text>
<line x1="6" y1="710.5" x2="1420" y2="710.5" stroke="#bcbcbc" stroke-width="1" stroke-dasharray="3 3"/>
<line x1="6" y1="761.5" x2="1420" y2="761.5" stroke="#bcbcbc" stroke-width="1" stroke-dasharray="3 3"/>
<path d="M810.5 725v2M815.5 731v2M820.5 737v2M404 693.5h5M467 693.5h3M402 694.5h2M409 694.5h3M454 694.5h13M470 694.5h3M400 695.5h2M412 695.5h3M448 695.5h6M473 695.5h3M398 696.5h2M415 696.5h3M443 696.5h5M476 696.5h3M397 697.5h1M418 697.5h3M438 697.5h5M479 697.5h3M395 698.5h2M421 698.5h17M482 698.5h3M393 699.5h2M485 699.5h4M391 700.5h2M489 700.5h6M511 700.5h10M390 701.5h1M495 701.5h5M504 701.5h7M521 701.5h3M379 702.5h11M500 702.5h4M524 702.5h3M372 703.5h7M527 703.5h3M370 704.5h2M530 704.5h3M368 705.5h2M533 705.5h3M366 706.5h2M536 706.5h3M363 707.5h3M539 707.5h2M605 707.5h17M361 708.5h2M541 708.5h3M596 708.5h9M622 708.5h8M359 709.5h2M544 709.5h3M589 709.5h7M630 709.5h2M354 710.5h5M547 710.5h2M582 710.5h7M632 710.5h2M707 710.5h19M346 711.5h8M549 711.5h7M575 711.5h7M634 711.5h2M703 711.5h4M726 711.5h2M337 712.5h9M556 712.5h6M569 712.5h6M636 712.5h1M699 712.5h4M728 712.5h1M328 713.5h9M562 713.5h7M637 713.5h2M695 713.5h4M729 713.5h2M325 714.5h3M639 714.5h2M671 714.5h24M731 714.5h1M324 715.5h1M641 715.5h2M662 715.5h9M732 715.5h2M323 716.5h1M643 716.5h2M649 716.5h13M734 716.5h1M322 717.5h1M645 717.5h4M735 717.5h2M321 718.5h1M737 718.5h1M780 718.5h15M320 719.5h1M738 719.5h2M758 719.5h22M795 719.5h10M319 720.5h1M740 720.5h1M745 720.5h13M805 720.5h1M318 721.5h1M741 721.5h4M806 721.5h1M317 722.5h1M807 722.5h1M316 723.5h1M808 723.5h1M210 724.5h6M315 724.5h1M809 724.5h1M206 725.5h4M216 725.5h4M292 725.5h3M314 725.5h1M202 726.5h4M220 726.5h4M290 726.5h2M295 726.5h3M313 726.5h1M198 727.5h4M224 727.5h4M288 727.5h2M298 727.5h3M312 727.5h1M811 727.5h1M193 728.5h5M228 728.5h35M286 728.5h2M301 728.5h4M311 728.5h1M812 728.5h1M188 729.5h5M263 729.5h4M283 729.5h3M305 729.5h3M310 729.5h1M813 729.5h1M183 730.5h5M267 730.5h4M281 730.5h2M308 730.5h2M814 730.5h1M179 731.5h4M271 731.5h4M279 731.5h2M176 732.5h3M275 732.5h4M1028 732.5h5M68 733.5h2M172 733.5h4M816 733.5h1M1027 733.5h1M1033 733.5h6M1055 733.5h8M64 734.5h4M70 734.5h2M169 734.5h3M817 734.5h1M1025 734.5h2M1039 734.5h5M1047 734.5h8M1063 734.5h2M60 735.5h4M72 735.5h2M166 735.5h3M818 735.5h1M1024 735.5h1M1044 735.5h3M1065 735.5h1M56 736.5h4M74 736.5h2M162 736.5h4M819 736.5h1M1022 736.5h2M1066 736.5h2M1189 736.5h33M20 737.5h36M76 737.5h2M158 737.5h4M1020 737.5h2M1068 737.5h2M1141 737.5h2M1186 737.5h3M17 738.5h3M78 738.5h1M116 738.5h2M155 738.5h3M981 738.5h19M1019 738.5h1M1070 738.5h2M1104 738.5h9M1136 738.5h5M1143 738.5h8M1182 738.5h4M14 739.5h3M79 739.5h2M113 739.5h3M118 739.5h1M151 739.5h4M821 739.5h10M980 739.5h1M1000 739.5h4M1017 739.5h2M1072 739.5h1M1095 739.5h9M1113 739.5h5M1132 739.5h4M1151 739.5h8M1178 739.5h4M10 740.5h4M81 740.5h2M110 740.5h3M119 740.5h1M149 740.5h2M831 740.5h7M899 740.5h20M978 740.5h2M1004 740.5h4M1016 740.5h1M1073 740.5h2M1087 740.5h8M1118 740.5h5M1127 740.5h5M1159 740.5h10M1175 740.5h3M7 741.5h3M83 741.5h2M106 741.5h4M120 741.5h1M148 741.5h1M838 741.5h1M895 741.5h4M919 741.5h3M977 741.5h1M1008 741.5h4M1014 741.5h2M1075 741.5h2M1080 741.5h7M1123 741.5h4M1169 741.5h6M5 742.5h2M85 742.5h10M103 742.5h3M121 742.5h2M146 742.5h2M839 742.5h2M891 742.5h4M922 742.5h3M976 742.5h1M1012 742.5h2M1077 742.5h3M95 743.5h8M123 743.5h1M145 743.5h1M841 743.5h1M887 743.5h4M925 743.5h4M975 743.5h1M124 744.5h1M144 744.5h1M842 744.5h1M883 744.5h4M929 744.5h3M973 744.5h2M125 745.5h1M142 745.5h2M843 745.5h2M880 745.5h3M932 745.5h8M972 745.5h1M126 746.5h1M141 746.5h1M845 746.5h1M877 746.5h3M940 746.5h10M971 746.5h1M127 747.5h1M140 747.5h1M846 747.5h1M874 747.5h3M950 747.5h4M970 747.5h1M128 748.5h1M138 748.5h2M847 748.5h2M870 748.5h4M954 748.5h3M968 748.5h2M129 749.5h2M137 749.5h1M849 749.5h1M866 749.5h4M957 749.5h4M967 749.5h1M131 750.5h1M136 750.5h1M850 750.5h1M861 750.5h5M961 750.5h3M966 750.5h1M132 751.5h1M134 751.5h2M851 751.5h2M856 751.5h5M964 751.5h2M133 752.5h1M853 752.5h3" fill="none" stroke="#1e90ff" stroke-width="1"/>
<text x="9.2" y="683" font-size="9.4" fill="#000" stroke="#000" stroke-width="0.2" textLength="67.3" lengthAdjust="spacingAndGlyphs">RSI(14) 49.4211</text>
<text x="1424.8" y="681" font-size="9.4" fill="#000" stroke="#000" stroke-width="0.2" textLength="14.2" lengthAdjust="spacingAndGlyphs">100</text>
<text x="1424.8" y="714" font-size="9.4" fill="#000" stroke="#000" stroke-width="0.2" textLength="9.5" lengthAdjust="spacingAndGlyphs">70</text>
<text x="1424.8" y="765" font-size="9.4" fill="#000" stroke="#000" stroke-width="0.2" textLength="9.5" lengthAdjust="spacingAndGlyphs">30</text>
<text x="1424.8" y="797" font-size="9.4" fill="#000" stroke="#000" stroke-width="0.2" textLength="4.8" lengthAdjust="spacingAndGlyphs">0</text>
<rect x="1421" y="672" width="2" height="1" fill="#000000"/>
<rect x="1421" y="799" width="2" height="1" fill="#000000"/>
<rect x="5" y="801" width="1" height="3" fill="#000000"/>
<text x="4.1" y="813" font-size="9.5" fill="#000" stroke="#000" stroke-width="0.2" textLength="46.4" lengthAdjust="spacingAndGlyphs">5 Apr 2019</text>
<rect x="69" y="801" width="1" height="3" fill="#000000"/>
<text x="68.1" y="813" font-size="9.5" fill="#000" stroke="#000" stroke-width="0.2" textLength="51.3" lengthAdjust="spacingAndGlyphs">11 Apr 2019</text>
<rect x="133" y="801" width="1" height="3" fill="#000000"/>
<text x="132.1" y="813" font-size="9.5" fill="#000" stroke="#000" stroke-width="0.2" textLength="51.3" lengthAdjust="spacingAndGlyphs">17 Apr 2019</text>
<rect x="197" y="801" width="1" height="3" fill="#000000"/>
<text x="196.1" y="813" font-size="9.5" fill="#000" stroke="#000" stroke-width="0.2" textLength="51.3" lengthAdjust="spacingAndGlyphs">24 Apr 2019</text>
<rect x="261" y="801" width="1" height="3" fill="#000000"/>
<text x="260.1" y="813" font-size="9.5" fill="#000" stroke="#000" stroke-width="0.2" textLength="51.3" lengthAdjust="spacingAndGlyphs">30 Apr 2019</text>
<rect x="325" y="801" width="1" height="3" fill="#000000"/>
<text x="324.1" y="813" font-size="9.5" fill="#000" stroke="#000" stroke-width="0.2" textLength="50.5" lengthAdjust="spacingAndGlyphs">6 May 2019</text>
<rect x="389" y="801" width="1" height="3" fill="#000000"/>
<text x="388.1" y="813" font-size="9.5" fill="#000" stroke="#000" stroke-width="0.2" textLength="55.4" lengthAdjust="spacingAndGlyphs">10 May 2019</text>
<rect x="453" y="801" width="1" height="3" fill="#000000"/>
<text x="452.1" y="813" font-size="9.5" fill="#000" stroke="#000" stroke-width="0.2" textLength="55.4" lengthAdjust="spacingAndGlyphs">16 May 2019</text>
<rect x="517" y="801" width="1" height="3" fill="#000000"/>
<text x="516.1" y="813" font-size="9.5" fill="#000" stroke="#000" stroke-width="0.2" textLength="55.4" lengthAdjust="spacingAndGlyphs">22 May 2019</text>
<rect x="581" y="801" width="1" height="3" fill="#000000"/>
<text x="580.1" y="813" font-size="9.5" fill="#000" stroke="#000" stroke-width="0.2" textLength="55.4" lengthAdjust="spacingAndGlyphs">28 May 2019</text>
<rect x="645" y="801" width="1" height="3" fill="#000000"/>
<text x="644.1" y="813" font-size="9.5" fill="#000" stroke="#000" stroke-width="0.2" textLength="45.4" lengthAdjust="spacingAndGlyphs">3 Jun 2019</text>
<rect x="709" y="801" width="1" height="3" fill="#000000"/>
<text x="708.1" y="813" font-size="9.5" fill="#000" stroke="#000" stroke-width="0.2" textLength="45.4" lengthAdjust="spacingAndGlyphs">7 Jun 2019</text>
<rect x="773" y="801" width="1" height="3" fill="#000000"/>
<text x="772.1" y="813" font-size="9.5" fill="#000" stroke="#000" stroke-width="0.2" textLength="50.3" lengthAdjust="spacingAndGlyphs">13 Jun 2019</text>
<rect x="837" y="801" width="1" height="3" fill="#000000"/>
<text x="836.1" y="813" font-size="9.5" fill="#000" stroke="#000" stroke-width="0.2" textLength="50.3" lengthAdjust="spacingAndGlyphs">19 Jun 2019</text>
<rect x="901" y="801" width="1" height="3" fill="#000000"/>
<text x="900.1" y="813" font-size="9.5" fill="#000" stroke="#000" stroke-width="0.2" textLength="50.3" lengthAdjust="spacingAndGlyphs">25 Jun 2019</text>
<rect x="965" y="801" width="1" height="3" fill="#000000"/>
<text x="964.1" y="813" font-size="9.5" fill="#000" stroke="#000" stroke-width="0.2" textLength="42.1" lengthAdjust="spacingAndGlyphs">1 Jul 2019</text>
<rect x="1029" y="801" width="1" height="3" fill="#000000"/>
<text x="1028.1" y="813" font-size="9.5" fill="#000" stroke="#000" stroke-width="0.2" textLength="42.1" lengthAdjust="spacingAndGlyphs">5 Jul 2019</text>
<rect x="1093" y="801" width="1" height="3" fill="#000000"/>
<text x="1092.1" y="813" font-size="9.5" fill="#000" stroke="#000" stroke-width="0.2" textLength="47.0" lengthAdjust="spacingAndGlyphs">11 Jul 2019</text>
<rect x="1157" y="801" width="1" height="3" fill="#000000"/>
<text x="1156.1" y="813" font-size="9.5" fill="#000" stroke="#000" stroke-width="0.2" textLength="47.0" lengthAdjust="spacingAndGlyphs">17 Jul 2019</text>
<rect x="1221" y="801" width="1" height="3" fill="#000000"/>
<text x="1220.1" y="813" font-size="9.5" fill="#000" stroke="#000" stroke-width="0.2" textLength="47.0" lengthAdjust="spacingAndGlyphs">23 Jul 2019</text>
<polygon points="7.8,35 15.2,35 11.5,30.8" fill="#000" shape-rendering="geometricPrecision"/>
<text x="20" y="35.6" font-size="9.4" fill="#000" stroke="#000" stroke-width="0.2" textLength="69" lengthAdjust="spacingAndGlyphs">USDCNH-,Daily</text>
<text x="95" y="35.6" font-size="9.4" fill="#000" stroke="#000" stroke-width="0.2" textLength="141.2" lengthAdjust="spacingAndGlyphs">6.88254 6.88386 6.88122 6.88149</text>
<defs>
<linearGradient id="rg" gradientUnits="userSpaceOnUse" x1="0" y1="44" x2="0" y2="108">
<stop offset="0" stop-color="#fb5555"/><stop offset="0.38" stop-color="#de2d2d"/><stop offset="1" stop-color="#b00000"/></linearGradient>
<linearGradient id="bg" x1="0" y1="0" x2="0" y2="1">
<stop offset="0" stop-color="#f2f2f2"/><stop offset="0.45" stop-color="#e4e4e4"/><stop offset="0.5" stop-color="#d4d4d4"/><stop offset="1" stop-color="#cacaca"/></linearGradient>
</defs>
<rect x="6" y="43" width="223" height="66" fill="#ffffff"/>
<rect x="8" y="44" width="52" height="25" fill="url(#rg)"/>
<rect x="8" y="68" width="109" height="40" fill="url(#rg)"/>
<rect x="119" y="68" width="108" height="40" fill="url(#rg)"/>
<rect x="175" y="44" width="52" height="25" fill="url(#rg)"/>
<rect x="8" y="44" width="52" height="1" fill="#c41a1a"/>
<rect x="8" y="44" width="1" height="64" fill="#c01414"/>
<rect x="59" y="44" width="1" height="24" fill="#c41a1a"/>
<rect x="175" y="44" width="52" height="1" fill="#c41a1a"/>
<rect x="175" y="44" width="1" height="24" fill="#c41a1a"/>
<rect x="226" y="44" width="1" height="64" fill="#b80c0c"/>
<rect x="12" y="67" width="44" height="1" fill="#a40000"/>
<rect x="12" y="68" width="44" height="1" fill="#ea6a6a"/>
<rect x="179" y="67" width="44" height="1" fill="#a40000"/>
<rect x="179" y="68" width="44" height="1" fill="#ea6a6a"/>
<rect x="62" y="44" width="111" height="22" fill="#a8acb4"/>
<rect x="63" y="45" width="109" height="20" fill="#ffffff"/>
<rect x="64" y="46" width="18" height="18" fill="url(#bg)"/>
<rect x="83" y="45" width="1" height="20" fill="#b4b8c0"/>
<rect x="153" y="46" width="18" height="18" fill="url(#bg)"/>
<rect x="151" y="45" width="1" height="20" fill="#b4b8c0"/>
<polygon points="69.5,53 75.5,53 72.5,56.5" fill="#4860c0" shape-rendering="geometricPrecision"/>
<polygon points="158.5,56.5 164.5,56.5 161.5,53" fill="#4860c0" shape-rendering="geometricPrecision"/>
<text x="124.7" y="59" font-size="12" fill="#000" stroke="#000" stroke-width="0.2" textLength="23.3" lengthAdjust="spacingAndGlyphs">1.00</text>
<text x="20.3" y="60" font-size="12.4" fill="#fff" stroke="#fff" stroke-width="0" textLength="25.7" lengthAdjust="spacingAndGlyphs">SELL</text>
<text x="188.5" y="60" font-size="12.4" fill="#fff" stroke="#fff" stroke-width="0" textLength="23.2" lengthAdjust="spacingAndGlyphs">BUY</text>
<text x="28" y="98.5" font-size="11.8" fill="#fff" stroke="#fff" stroke-width="0.2" textLength="23.7" lengthAdjust="spacingAndGlyphs" font-weight="bold">6.88</text>
<text x="138" y="98.5" font-size="11.8" fill="#fff" stroke="#fff" stroke-width="0.2" textLength="23.7" lengthAdjust="spacingAndGlyphs" font-weight="bold">6.88</text>
<text x="54.8" y="99" font-size="34" fill="#fff" stroke="#fff" stroke-width="0" textLength="35" lengthAdjust="spacingAndGlyphs">14</text>
<text x="167" y="99" font-size="34" fill="#fff" stroke="#fff" stroke-width="0" textLength="33.4" lengthAdjust="spacingAndGlyphs">37</text>
<text x="95" y="83" font-size="11.6" fill="#fff" stroke="#fff" stroke-width="0.2" textLength="6.9" lengthAdjust="spacingAndGlyphs" font-weight="bold">9</text>
<text x="206" y="83" font-size="11.6" fill="#fff" stroke="#fff" stroke-width="0.2" textLength="6.9" lengthAdjust="spacingAndGlyphs" font-weight="bold">2</text>
<rect x="2" y="822" width="1462" height="1" fill="#e3e3e3"/>
<rect x="0" y="823" width="1464" height="24" fill="#f0f0f0"/>
<rect x="0" y="843" width="1464" height="1" fill="#fbfbfb"/>
<rect x="0" y="847" width="1464" height="1" fill="#a0a0a0"/>
<rect x="0" y="848" width="1464" height="4" fill="#ffffff"/>
<rect x="12" y="848" width="1" height="4" fill="#e6e6e6"/>
<rect x="142" y="848" width="1" height="4" fill="#e6e6e6"/>
<rect x="243" y="848" width="1" height="4" fill="#e6e6e6"/>
<rect x="373" y="848" width="1" height="4" fill="#e6e6e6"/>
<rect x="518" y="848" width="1" height="4" fill="#e6e6e6"/>
<rect x="663" y="848" width="1" height="4" fill="#e6e6e6"/>
<rect x="808" y="848" width="1" height="4" fill="#e6e6e6"/>
<rect x="953" y="848" width="1" height="4" fill="#e6e6e6"/>
<rect x="1098" y="848" width="1" height="4" fill="#e6e6e6"/>
<rect x="1243" y="848" width="1" height="4" fill="#e6e6e6"/>
<rect x="0" y="823" width="1" height="20" fill="#a0a0a0"/>
<rect x="1" y="823" width="1" height="20" fill="#696969"/>
<rect x="2" y="823" width="1462" height="1" fill="#000"/>
<rect x="439" y="823" width="110" height="18" fill="#ffffff"/>
<rect x="438" y="823" width="1" height="19" fill="#000"/>
<rect x="549" y="823" width="1" height="19" fill="#000"/>
<rect x="438" y="841" width="112" height="1" fill="#000"/>
<rect x="550" y="825" width="1" height="18" fill="#9a9a9a"/>
<rect x="440" y="842" width="111" height="1" fill="#b4b4b4"/>
<text x="17" y="838" font-size="12.2" fill="#5a5a5a" stroke="#5a5a5a" stroke-width="0" textLength="85" lengthAdjust="spacingAndGlyphs">EURUSD-,Daily</text>
<text x="124" y="838" font-size="12.2" fill="#5a5a5a" stroke="#5a5a5a" stroke-width="0" textLength="87" lengthAdjust="spacingAndGlyphs">AUDUSD-,Daily</text>
<text x="234" y="838" font-size="12.2" fill="#5a5a5a" stroke="#5a5a5a" stroke-width="0" textLength="84" lengthAdjust="spacingAndGlyphs">USDCHF-,Daily</text>
<text x="341" y="838" font-size="12.2" fill="#5a5a5a" stroke="#5a5a5a" stroke-width="0" textLength="86" lengthAdjust="spacingAndGlyphs">USDCAD-,Daily</text>
<text x="450" y="838" font-size="12.2" fill="#000" stroke="#000" stroke-width="0" textLength="88" lengthAdjust="spacingAndGlyphs">USDCNH-,Daily</text>
<text x="561" y="838" font-size="12.2" fill="#5a5a5a" stroke="#5a5a5a" stroke-width="0" textLength="97" lengthAdjust="spacingAndGlyphs">EURCHF-,Weekly</text>
<text x="682" y="838" font-size="12.2" fill="#5a5a5a" stroke="#5a5a5a" stroke-width="0" textLength="83" lengthAdjust="spacingAndGlyphs">XAUUSD-,M15</text>
<text x="789" y="838" font-size="12.2" fill="#5a5a5a" stroke="#5a5a5a" stroke-width="0" textLength="72" lengthAdjust="spacingAndGlyphs">GBPUSD-,H1</text>
<text x="885.5" y="838" font-size="12.2" fill="#5a5a5a" stroke="#5a5a5a" stroke-width="0" textLength="56" lengthAdjust="spacingAndGlyphs">UKOil-,H1</text>
<rect x="114" y="826" width="1" height="14" fill="#6a6a6a"/>
<rect x="222" y="826" width="1" height="14" fill="#6a6a6a"/>
<rect x="330" y="826" width="1" height="14" fill="#6a6a6a"/>
<rect x="670" y="826" width="1" height="14" fill="#6a6a6a"/>
<rect x="778" y="826" width="1" height="14" fill="#6a6a6a"/>
<rect x="874" y="826" width="1" height="14" fill="#6a6a6a"/>
<rect x="954" y="826" width="1" height="14" fill="#6a6a6a"/>
<polygon points="1439,829 1439,836 1435.5,832.5" fill="#8c8c8c" shape-rendering="geometricPrecision"/>
<polygon points="1454.5,829 1454.5,836 1458,832.5" fill="#808080" shape-rendering="geometricPrecision"/>
</svg>
</body></html>
